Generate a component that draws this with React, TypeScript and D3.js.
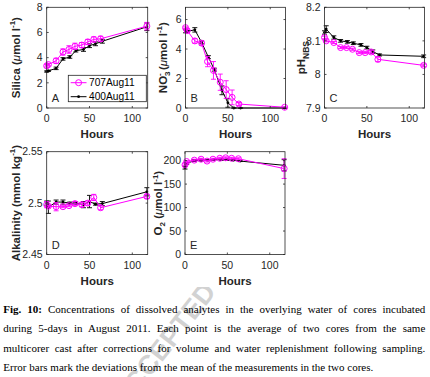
import React, { useEffect, useRef } from 'react';
import * as d3 from 'd3';

// ---------- data ----------
const hours707 = [0, 2, 11, 19, 26, 33, 41, 48, 55, 63, 117];
const hours400 = [0, 2, 11, 19, 27, 34, 43, 50, 57, 65, 117];

const silica707 = [3.35, 3.45, 3.75, 4.45, 4.65, 4.9, 5.0, 5.25, 5.45, 5.5, 6.5];
const silica707Err = [0.1, 0.1, 0.2, 0.25, 0.3, 0.25, 0.2, 0.2, 0.2, 0.2, 0.3];
const silica400 = [2.9, 2.95, 3.15, 3.9, 4.05, 4.55, 4.65, 4.95, 5.1, 5.3, 6.45];
const silica400Err = [0.05, 0.05, 0.1, 0.1, 0.1, 0.1, 0.15, 0.15, 0.15, 0.15, 0.3];

const nitrate707 = [5.45, 5.25, 4.55, 4.4, 3.15, 2.55, 1.75, 1.25, 0.72, 0.27, 0.05];
const nitrate707Err = [0.05, 0.1, 0.15, 0.15, 0.35, 0.6, 0.55, 0.6, 0.5, 0.1, 0.02];
const nitrate400 = [5.2, 5.2, 5.3, 4.45, 3.45, 2.6, 1.2, 0.35, 0.0, 0.0, 0.0];
const nitrate400Err = [0.1, 0.05, 0.15, 0.1, 0.1, 0.1, 0.3, 0.3, 0.0, 0.0, 0.0];

const ph707 = [8.11, 8.1, 8.095, 8.08, 8.08, 8.075, 8.065, 8.065, 8.067, 8.045, 8.027];
const ph707Err = [0.004, 0.003, 0.003, 0.003, 0.003, 0.003, 0.003, 0.003, 0.004, 0.007, 0.004];
const ph400 = [8.125, 8.135, 8.11, 8.1, 8.097, 8.093, 8.088, 8.08, 8.068, 8.058, 8.054];
const ph400Err = [0.005, 0.01, 0.005, 0.004, 0.004, 0.004, 0.004, 0.004, 0.005, 0.003, 0.004];

const alk707 = [2.4985, 2.497, 2.4965, 2.4965, 2.4975, 2.4995, 2.4985, 2.5, 2.5055, 2.4955, 2.5065];
const alk707Err = [0.003, 0.001, 0.004, 0.001, 0.001, 0.002, 0.002, 0.002, 0.003, 0.002, 0.002];
const alk400 = [2.5, 2.496, 2.501, 2.501, 2.5, 2.5, 2.4985, 2.5015, 2.499, 2.4995, 2.511];
const alk400Err = [0.002, 0.006, 0.002, 0.002, 0.001, 0.001, 0.003, 0.006, 0.001, 0.002, 0.004];

const oxy707 = [191, 198, 201, 203, 199, 203, 205, 206, 205, 204, 183];
const oxy707Err = [2, 2, 2, 2, 2, 2, 2, 2, 2, 2, 21];
const oxy400 = [185, 194, 200, 201, 201, 202, 202, 202, 201, 199, 190];
const oxy400Err = [3, 2, 2, 2, 1, 1, 1, 1, 1, 1, 12];

const xTicks = [0, 50, 100];
const silicaTicks = [0, 2, 4, 6, 8];
const nitrateTicks = [0, 2, 4, 6];
const phTicks = [7.9, 8, 8.1, 8.2];
const alkTicks = [2.45, 2.5, 2.55];
const oxyTicks = [0, 50, 100, 150, 200];

const legendLabels = ['707Aug11', '400Aug11'];

const captionLines = [
  'Concentrations of dissolved analytes in the overlying water of cores incubated',
  'during 5-days in August 2011. Each point is the average of two cores from the same',
  'multicorer cast after corrections for volume and water replenishment following sampling.',
  'Error bars mark the deviations from the mean of the measurements in the two cores.',
];

// ---------- style ----------
const SANS = "'Liberation Sans', Arial, Helvetica, sans-serif";
const SERIF = "'Liberation Serif', 'Times New Roman', serif";
const AX = '#262626';
const MAG = '#ff00ff';

type Series = { x: number[]; y: number[]; e: number[]; color: string; marker: 'o' | '.' };

function SeriesMarks({ s, x, y }: { s: Series; x: any; y: any }) {
  const pts = s.x.map((h, i) => [h, s.y[i]] as [number, number]);
  const path = d3.line<[number, number]>().x((d) => x(d[0])).y((d) => y(d[1]))(pts) || '';
  const cap = 2.5;
  return (
    <g>
      <path d={path} fill="none" stroke={s.color} strokeWidth={1} />
      {s.x.map((h, i) => {
        const cx = x(h);
        const y1 = y(s.y[i] - s.e[i]);
        const y2 = y(s.y[i] + s.e[i]);
        return (
          <g key={i} stroke={s.color} strokeWidth={0.9}>
            <line x1={cx} x2={cx} y1={y1} y2={y2} />
            <line x1={cx - cap} x2={cx + cap} y1={y1} y2={y1} />
            <line x1={cx - cap} x2={cx + cap} y1={y2} y2={y2} />
          </g>
        );
      })}
      {s.x.map((h, i) =>
        s.marker === 'o' ? (
          <circle key={'m' + i} cx={x(h)} cy={y(s.y[i])} r={3} fill="none" stroke={s.color} strokeWidth={1} />
        ) : (
          <circle key={'m' + i} cx={x(h)} cy={y(s.y[i])} r={1.4} fill={s.color} />
        )
      )}
    </g>
  );
}

function Panel(props: {
  left: number; top: number; width: number; height: number;
  yDomain: [number, number]; yTicks: number[];
  series: Series[]; letter: string; ylabel: React.ReactNode; ylabelX: number;
  legend?: boolean;
}) {
  const { left, top, width, height, yDomain, yTicks, series, letter, ylabel, ylabelX, legend } = props;
  const x = d3.scaleLinear().domain([0, 118]).range([left, left + width]);
  const y = d3.scaleLinear().domain(yDomain).range([top + height, top]);
  const tl = 2;
  const fmt = (v: number) => String(+v.toFixed(3));
  const cy = top + height / 2;
  return (
    <g fontFamily={SANS}>
      <rect x={left} y={top} width={width} height={height} fill="#fff" />
      {series.map((s, i) => (
        <SeriesMarks key={i} s={s} x={x} y={y} />
      ))}
      <rect x={left} y={top} width={width} height={height} fill="none" stroke={AX} strokeWidth={0.8} />
      {xTicks.map((t) => (
        <g key={'x' + t}>
          <line x1={x(t)} x2={x(t)} y1={top + height} y2={top + height - tl} stroke={AX} strokeWidth={0.8} />
          <line x1={x(t)} x2={x(t)} y1={top} y2={top + tl} stroke={AX} strokeWidth={0.8} />
          <text x={x(t)} y={top + height + 14} textAnchor="middle" fontSize={10.5} fill={AX}>{t}</text>
        </g>
      ))}
      {yTicks.map((t) => (
        <g key={'y' + t}>
          <line x1={left} x2={left + tl} y1={y(t)} y2={y(t)} stroke={AX} strokeWidth={0.8} />
          <line x1={left + width} x2={left + width - tl} y1={y(t)} y2={y(t)} stroke={AX} strokeWidth={0.8} />
          <text x={left - 4} y={y(t) + 3.7} textAnchor="end" fontSize={10.5} fill={AX}>{fmt(t)}</text>
        </g>
      ))}
      <text x={left + width / 2} y={top + height + 30} textAnchor="middle" fontSize={11.5} fontWeight="bold" fill={AX}>Hours</text>
      <text x={left + 5} y={top + height - 6} fontSize={11} fill={AX}>{letter}</text>
      <text transform={`translate(${ylabelX},${cy}) rotate(-90)`} textAnchor="middle" fontSize={11.5} fontWeight="bold" fill={AX}>
        {ylabel}
      </text>
      {legend && (
        <g>
          <rect x={68.3} y={75.3} width={78} height={26.4} fill="#fff" stroke={AX} strokeWidth={0.8} />
          {series.slice().reverse().map((s, i) => {
            const ly = 82.7 + i * 14;
            return (
              <g key={'l' + i}>
                <line x1={70.7} x2={86.5} y1={ly} y2={ly} stroke={s.color} strokeWidth={1} />
                {s.marker === 'o' ? (
                  <circle cx={78.6} cy={ly} r={3} fill="none" stroke={s.color} strokeWidth={1} />
                ) : (
                  <circle cx={78.6} cy={ly} r={1.4} fill={s.color} />
                )}
                <text x={89} y={ly + 3.7} fontSize={10.2} fill="#000">{legendLabels[i]}</text>
              </g>
            );
          })}
        </g>
      )}
    </g>
  );
}

const sup = (t: string) => [
  <tspan key="a" dy={-4.5} fontSize={8}>{t}</tspan>,
  <tspan key="b" dy={4.5}>{')'}</tspan>,
];

function Caption() {
  const refs = useRef<(SVGTextElement | null)[]>([]);
  const target = 422;
  useEffect(() => {
    refs.current.forEach((el, i) => {
      if (!el || i === captionLines.length - 1) return;
      el.setAttribute('word-spacing', '0');
      const w = el.getComputedTextLength();
      const content = el.textContent || '';
      const spaces = (content.match(/ /g) || []).length;
      const extra = (target - w) / Math.max(1, spaces);
      el.setAttribute('word-spacing', String(extra));
    });
  }, []);
  const baselines = [312.7, 332.2, 351.6, 370.8];
  return (
    <g fontFamily={SERIF} fontSize={11} fill="#000">
      {captionLines.map((ln, i) => (
        <text key={i} ref={(el) => { refs.current[i] = el; }} x={3.3} y={baselines[i]}>
          {i === 0 && <tspan fontWeight="bold">{'Fig. 10: '}</tspan>}
          {ln}
        </text>
      ))}
    </g>
  );
}

export default function App() {
  const sA: Series[] = [
    { x: hours400, y: silica400, e: silica400Err, color: '#000', marker: '.' },
    { x: hours707, y: silica707, e: silica707Err, color: MAG, marker: 'o' },
  ];
  const sB: Series[] = [
    { x: hours400, y: nitrate400, e: nitrate400Err, color: '#000', marker: '.' },
    { x: hours707, y: nitrate707, e: nitrate707Err, color: MAG, marker: 'o' },
  ];
  const sC: Series[] = [
    { x: hours400, y: ph400, e: ph400Err, color: '#000', marker: '.' },
    { x: hours707, y: ph707, e: ph707Err, color: MAG, marker: 'o' },
  ];
  const sD: Series[] = [
    { x: hours400, y: alk400, e: alk400Err, color: '#000', marker: '.' },
    { x: hours707, y: alk707, e: alk707Err, color: MAG, marker: 'o' },
  ];
  const sE: Series[] = [
    { x: hours400, y: oxy400, e: oxy400Err, color: '#000', marker: '.' },
    { x: hours707, y: oxy707, e: oxy707Err, color: MAG, marker: 'o' },
  ];
  const mu = <tspan key="mu" fontStyle="italic" fontWeight="normal">μ</tspan>;
  return (
    <svg width={430} height={377} style={{ position: 'absolute', left: 0, top: 0, background: '#fff' }}>
      <rect x={0} y={0} width={430} height={377} fill="#fff" />
      <text transform="translate(217,292) rotate(-52)" textAnchor="end" fontFamily={SANS} fontWeight="bold" fontSize={27} fill="#d2d2d2">
        ACCEPTED
      </text>
      <rect x={0} y={0} width={430} height={287} fill="#fff" />
      <Panel left={46.7} top={7.3} width={101} height={100.7} yDomain={[0, 8]} yTicks={silicaTicks} series={sA}
        letter="A" ylabelX={19.5} legend
        ylabel={[<tspan key="a">Silica (</tspan>, mu, <tspan key="b">mol l</tspan>, ...sup('-1')]} />
      <Panel left={185.5} top={7.3} width={100} height={100.7} yDomain={[0, 6.83]} yTicks={nitrateTicks} series={sB}
        letter="B" ylabelX={166.5}
        ylabel={[
          <tspan key="a">NO</tspan>,
          <tspan key="b" dy={3} fontSize={8}>3</tspan>,
          <tspan key="c" dx={-4.5} dy={-8} fontSize={8}>-</tspan>,
          <tspan key="d" dy={5}>{' ('}</tspan>, mu, <tspan key="e">mol l</tspan>, ...sup('-1')]} />
      <Panel left={324.5} top={7.3} width={100} height={100.7} yDomain={[7.9, 8.2]} yTicks={phTicks} series={sC}
        letter="C" ylabelX={305}
        ylabel={[<tspan key="a">pH</tspan>, <tspan key="b" dy={3.5} fontSize={8.5}>NBS</tspan>]} />
      <Panel left={46.7} top={151.7} width={101} height={102.8} yDomain={[2.45, 2.55]} yTicks={alkTicks} series={sD}
        letter="D" ylabelX={19.5}
        ylabel={[<tspan key="a">Alkalinity (mmol kg</tspan>, ...sup('-1')]} />
      <Panel left={185} top={151.7} width={100} height={102.8} yDomain={[0, 219]} yTicks={oxyTicks} series={sE}
        letter="E" ylabelX={162}
        ylabel={[<tspan key="a">O</tspan>, <tspan key="b" dy={3} fontSize={8}>2</tspan>,
          <tspan key="c" dy={-3}>{' ('}</tspan>, mu, <tspan key="d">mol l</tspan>, ...sup('-1')]} />
      <Caption />
    </svg>
  );
}
